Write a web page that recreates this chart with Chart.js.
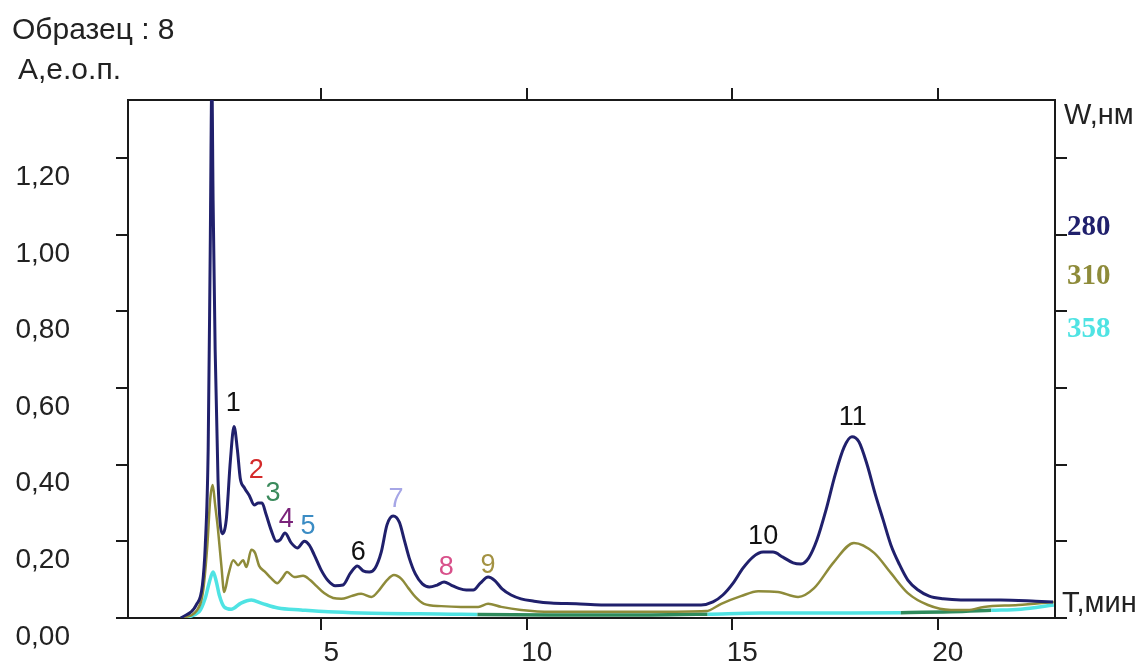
<!DOCTYPE html>
<html>
<head>
<meta charset="utf-8">
<script src="https://cdn.jsdelivr.net/npm/chart.js@4/dist/chart.umd.min.js"></script>
<style>
  body { margin: 0; background: #fff; }
  #wrap { width: 1147px; height: 664px; }
</style>
</head>
<body>
<div id="wrap"><canvas id="chrom" width="1147" height="664"></canvas></div>
<script>
// retention time, min / absorbance for each detector wavelength
const time280 = [1.59, 1.96, 2.11, 2.18, 2.25, 2.30, 2.34, 2.37, 2.42, 2.49, 2.59, 2.69, 2.79, 2.88, 2.96, 3.03, 3.13, 3.25, 3.37, 3.47, 3.56, 3.66, 3.78, 3.91, 4.00, 4.12, 4.27, 4.42, 4.59, 4.71, 4.83, 5.00, 5.17, 5.34, 5.53, 5.71, 5.88, 6.02, 6.17, 6.31, 6.46, 6.60, 6.75, 6.90, 7.02, 7.14, 7.29, 7.46, 7.63, 7.82, 7.99, 8.16, 8.33, 8.53, 8.70, 8.87, 9.06, 9.23, 9.40, 9.62, 9.86, 10.18, 10.59, 11.20, 11.81, 13.02, 14.24, 14.53, 14.77, 15.02, 15.26, 15.50, 15.75, 15.99, 16.23, 16.48, 16.67, 16.86, 17.06, 17.28, 17.50, 17.72, 17.91, 18.08, 18.28, 18.47, 18.67, 18.86, 19.06, 19.27, 19.52, 19.79, 20.13, 20.56, 21.53, 22.38, 22.80]
const abs280 = [0, 0.034, 0.086, 0.19, 0.44, 0.96, 1.40, 1.09, 0.70, 0.36, 0.22, 0.256, 0.41, 0.50, 0.44, 0.365, 0.34, 0.32, 0.295, 0.30, 0.30, 0.27, 0.23, 0.20, 0.204, 0.222, 0.196, 0.183, 0.20, 0.19, 0.165, 0.125, 0.097, 0.084, 0.086, 0.117, 0.136, 0.123, 0.12, 0.13, 0.172, 0.243, 0.266, 0.25, 0.204, 0.157, 0.115, 0.089, 0.081, 0.086, 0.094, 0.086, 0.078, 0.073, 0.073, 0.091, 0.107, 0.097, 0.076, 0.060, 0.050, 0.044, 0.039, 0.037, 0.034, 0.034, 0.034, 0.042, 0.06, 0.091, 0.13, 0.159, 0.172, 0.172, 0.159, 0.144, 0.141, 0.157, 0.204, 0.282, 0.373, 0.446, 0.473, 0.46, 0.40, 0.326, 0.256, 0.19, 0.141, 0.099, 0.073, 0.057, 0.050, 0.047, 0.047, 0.044, 0.042]

const time310 = [1.59, 1.98, 2.13, 2.23, 2.30, 2.36, 2.42, 2.49, 2.57, 2.64, 2.74, 2.86, 2.98, 3.10, 3.18, 3.30, 3.39, 3.49, 3.64, 3.78, 3.93, 4.05, 4.17, 4.34, 4.56, 4.73, 4.88, 5.07, 5.29, 5.49, 5.73, 5.97, 6.22, 6.41, 6.60, 6.77, 6.95, 7.12, 7.29, 7.50, 7.92, 8.40, 8.82, 9.06, 9.38, 9.86, 10.59, 13.02, 14.36, 14.73, 15.21, 15.63, 16.11, 16.60, 16.99, 17.47, 17.96, 18.45, 18.86, 19.27, 19.76, 20.32, 20.73, 21.12, 21.95, 22.82]
const abs310 = [0, 0.02, 0.073, 0.19, 0.31, 0.347, 0.295, 0.23, 0.138, 0.068, 0.112, 0.151, 0.138, 0.151, 0.133, 0.178, 0.17, 0.136, 0.12, 0.104, 0.091, 0.104, 0.12, 0.107, 0.11, 0.099, 0.084, 0.065, 0.052, 0.050, 0.057, 0.063, 0.055, 0.073, 0.099, 0.112, 0.102, 0.078, 0.055, 0.037, 0.031, 0.029, 0.029, 0.037, 0.029, 0.021, 0.016, 0.016, 0.018, 0.037, 0.057, 0.070, 0.068, 0.055, 0.078, 0.146, 0.196, 0.17, 0.117, 0.065, 0.034, 0.021, 0.021, 0.029, 0.034, 0.042]

const time358 = [1.59, 2.03, 2.18, 2.28, 2.37, 2.45, 2.52, 2.64, 2.81, 3.05, 3.30, 3.54, 3.95, 4.51, 5.17, 5.97, 8.16, 8.80, 10.59, 13.02, 14.40, 15.70, 17.89, 19.10, 20.32, 21.30, 22.02, 22.82]
const abs358 = [0, 0.016, 0.052, 0.094, 0.12, 0.094, 0.06, 0.029, 0.023, 0.039, 0.047, 0.039, 0.026, 0.021, 0.016, 0.013, 0.010, 0.009, 0.008, 0.008, 0.010, 0.013, 0.013, 0.014, 0.016, 0.020, 0.023, 0.034]

const timeTicks = [5, 10, 15, 20]
const absTicks = [0, 0.2, 0.4, 0.6, 0.8, 1.0, 1.2]

// peak numbers: label text, time and absorbance where the number sits
const peakNames = ['1', '2', '3', '4', '5', '6', '7', '8', '9', '10', '11']
const peakTimes = [2.86, 3.42, 3.83, 4.15, 4.68, 5.90, 6.82, 8.04, 9.06, 15.75, 17.93]
const peakLevels = [0.56, 0.386, 0.326, 0.256, 0.238, 0.172, 0.308, 0.131, 0.138, 0.212, 0.522]
const peakColors = ['#111', '#d42a2a', '#3a8a5c', '#7a237a', '#3b8cc4', '#111', '#a6a6e6', '#d8508a', '#a39242', '#111', '#111']

const waveNames = ['280', '310', '358']
const waveColors = ['#20206c', '#8e8b3a', '#4fe3e3']
const waveLevels = [1.02, 0.89, 0.752]

const toPoints = (xs, ys) => xs.map((x, i) => ({ x: x, y: ys[i] }))

const inGreen = (t) => (t >= 8.8 && t < 14.4) || (t >= 19.1 && t < 21.3)

const labelsPlugin = {
  id: 'chromLabels',
  afterDraw(chart) {
    const ctx = chart.ctx
    const xs = chart.scales.x
    const ys = chart.scales.y
    ctx.save()
    ctx.textBaseline = 'middle'
    ctx.fillStyle = '#222'
    ctx.textAlign = 'left'
    ctx.font = '30px "Liberation Sans", Arial, sans-serif'
    ctx.fillText('Образец : 8', 12, 31)
    ctx.fillText('А,е.о.п.', 18, 71)
    ctx.font = '29px "Liberation Sans", Arial, sans-serif'
    ctx.fillText('W,нм', 1064, 116)
    ctx.fillText('Т,мин', 1062, 604)

    ctx.font = 'bold 29px "Liberation Serif", "Times New Roman", serif'
    waveNames.forEach((n, i) => {
      ctx.fillStyle = waveColors[i]
      ctx.fillText(n, 1067, ys.getPixelForValue(waveLevels[i]))
    })

    ctx.textAlign = 'center'
    ctx.font = '27px "Liberation Sans", Arial, sans-serif'
    peakNames.forEach((n, i) => {
      ctx.fillStyle = peakColors[i]
      ctx.fillText(n, xs.getPixelForValue(peakTimes[i]), ys.getPixelForValue(peakLevels[i]))
    })
    ctx.restore()
  },
}

const axisFont = { family: '"Liberation Sans", Arial, sans-serif', size: 28 }
const lineGrid = { drawOnChartArea: false, drawTicks: true, tickLength: 12, color: '#1a1a1a', lineWidth: 2 }
const lineBorder = { display: true, color: '#1a1a1a', width: 2 }

// fixed box sizes so the plot area sits where the reference has it
const fixH = (h) => (s) => { s.height = h; s.paddingLeft = 0; s.paddingRight = 0 }
const fixW = (w) => (s) => { s.width = w; s.paddingTop = 0; s.paddingBottom = 0 }

new Chart(document.getElementById('chrom').getContext('2d'), {
  type: 'line',
  data: {
    datasets: [
      {
        label: waveNames[0],
        data: toPoints(time280, abs280),
        borderColor: waveColors[0],
        borderWidth: 3,
        pointRadius: 0,
        cubicInterpolationMode: 'monotone',
      },
      {
        label: waveNames[1],
        data: toPoints(time310, abs310),
        borderColor: waveColors[1],
        borderWidth: 2.5,
        pointRadius: 0,
        cubicInterpolationMode: 'monotone',
      },
      {
        label: waveNames[2],
        data: toPoints(time358, abs358),
        borderColor: waveColors[2],
        borderWidth: 3.5,
        pointRadius: 0,
        cubicInterpolationMode: 'monotone',
        segment: {
          borderColor: (c) => (inGreen(c.p0.parsed.x) ? '#2f8b5c' : undefined),
        },
      },
    ],
  },
  options: {
    responsive: false,
    animation: false,
    layout: { padding: 0 },
    plugins: { legend: { display: false }, tooltip: { enabled: false } },
    scales: {
      x: {
        type: 'linear',
        position: 'bottom',
        min: 0.3,
        max: 22.85,
        afterBuildTicks: (s) => { s.ticks = timeTicks.map((v) => ({ value: v })) },
        afterFit: fixH(46),
        grid: lineGrid,
        border: lineBorder,
        ticks: { font: axisFont, color: '#222', labelOffset: 10, padding: 6, maxRotation: 0 },
      },
      x2: {
        type: 'linear',
        position: 'top',
        min: 0.3,
        max: 22.85,
        afterBuildTicks: (s) => { s.ticks = timeTicks.map((v) => ({ value: v })) },
        afterFit: fixH(100),
        grid: lineGrid,
        border: lineBorder,
        ticks: { callback: () => '' },
      },
      y: {
        type: 'linear',
        position: 'left',
        min: 0,
        max: 1.352,
        afterBuildTicks: (s) => { s.ticks = absTicks.map((v) => ({ value: v })) },
        afterFit: fixW(128),
        grid: lineGrid,
        border: lineBorder,
        ticks: {
          font: axisFont,
          color: '#222',
          padding: 46,
          labelOffset: 19,
          callback: (v) => v.toFixed(2).replace('.', ','),
        },
      },
      y2: {
        type: 'linear',
        position: 'right',
        min: 0,
        max: 1.352,
        afterBuildTicks: (s) => { s.ticks = absTicks.map((v) => ({ value: v })) },
        afterFit: fixW(92),
        grid: lineGrid,
        border: lineBorder,
        ticks: { callback: () => '' },
      },
    },
  },
  plugins: [labelsPlugin],
})
</script>
</body>
</html>
